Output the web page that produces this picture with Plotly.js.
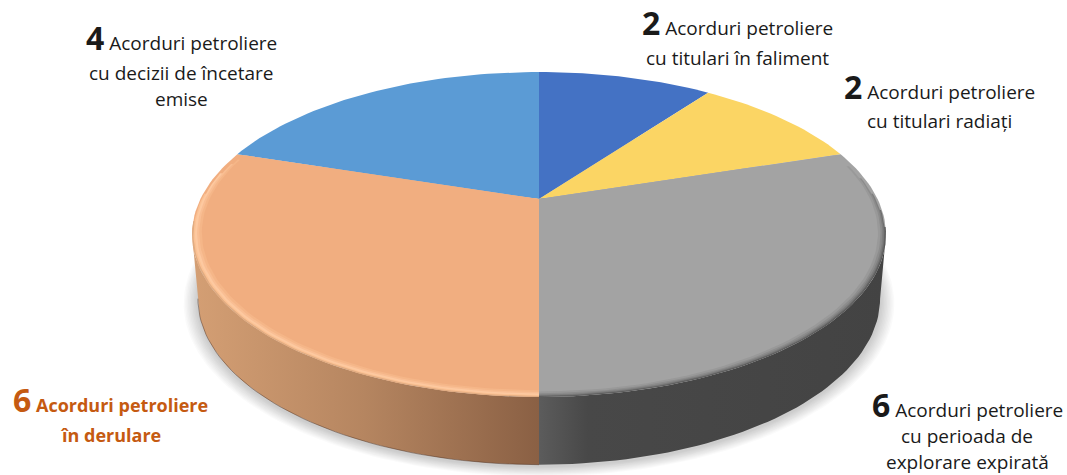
<!DOCTYPE html>
<html>
<head>
<meta charset="utf-8">
<script src="https://cdn.plot.ly/plotly-3.0.1.min.js"></script>
<style>html,body{margin:0;padding:0;background:#fff}</style>
</head>
<body>
<div id="chart" style="width:1067px;height:475px"></div>
<script>
// Petroleum agreements by status
const categories = ['cu titulari în faliment', 'cu titulari radiați', 'cu perioada de explorare expirată', 'în derulare', 'cu decizii de încetare emise'];
const values = [2, 2, 6, 6, 4];
const sliceColors = ['#4472C4', '#FBD564', '#A3A3A3', '#F1AE80', '#5B9BD5'];
const labelLines = [
  ['Acorduri petroliere', 'cu titulari în faliment'],
  ['Acorduri petroliere', 'cu titulari radiați'],
  ['Acorduri petroliere', 'cu perioada de', 'explorare expirată'],
  ['Acorduri petroliere', 'în derulare'],
  ['Acorduri petroliere', 'cu decizii de încetare', 'emise']
];

// Pixel placement of each label's lines: centre x, then one centre y per line
const labelPlacement = [
  {x: 737, y: [23, 58]},
  {x: 939, y: [87, 121]},
  {x: 967, y: [404, 436, 462]},
  {x: 110, y: [399, 435]},
  {x: 181, y: [38, 73, 99]}
];

const W = 1067, H = 475;
const PERSPECTIVE = 0.2184;
const total = values.reduce((a, b) => a + b, 0);
const toRad = d => d * Math.PI / 180;

// Angle at which the tilted disc reaches its widest point on either side
const SIDE = Math.acos(-PERSPECTIVE) * 180 / Math.PI;

// A point on the disc, tilted away from the viewer
function disc(r, deg) {
  const t = toRad(deg);
  const w = 1 + PERSPECTIVE * r * Math.cos(t);
  return [r * Math.sin(t) / w, r * Math.cos(t) / w];
}
// The same point on the lower rim of the disc
function lower(deg, grow = 1, drop = 0) {
  const p = disc(1, deg);
  return [0.983 * grow * p[0], -0.415 - drop + 1.022 * grow * (p[1] + 0.233) - 0.233];
}
function arc(from, to, fn) {
  const pts = [];
  const n = Math.max(2, Math.ceil(Math.abs(to - from) / 1.5));
  for (let i = 0; i <= n; i++) pts.push(fn(from + (to - from) * i / n));
  return pts;
}
function fillTrace(pts, style, name) {
  return Object.assign({
    type: 'scatter', mode: 'lines', fill: 'toself',
    x: pts.map(p => p[0]), y: pts.map(p => p[1]),
    line: {width: 0}, hoverinfo: name ? 'text' : 'skip', text: name, showlegend: false
  }, style);
}
function wedge(r, from, to) {
  return [[0, 0]].concat(arc(from, to, d => disc(r, d)), [[0, 0]]);
}

// Angular span of every slice, clockwise from twelve o'clock
const spans = [];
values.reduce((acc, v) => { spans.push([acc * 360 / total, (acc + v) * 360 / total]); return acc + v; }, 0);

const traces = [];

// Soft cast shadow beneath the disc
for (let i = 10; i >= 1; i--) {
  traces.push(fillTrace(arc(0, 360, d => lower(d, 1 + i * 0.0042, 0.012 + i * 0.002)), {fillcolor: 'rgba(0,0,0,0.02)'}));
}

// Side walls of the two front slices, running out to the disc's widest points
const wallStyle = {
  2: {fillgradient: {type: 'horizontal', colorscale: [[0, '#5C5C5C'], [0.14, '#484848'], [1, '#434343']]}},
  3: {fillgradient: {type: 'horizontal', colorscale: [[0, '#D49F74'], [0.5, '#B58560'], [1, '#8A6044']]}}
};
const wallSpans = {2: [SIDE, 180], 3: [180, 360 - SIDE]};
[2, 3].forEach(i => {
  const [a, b] = wallSpans[i];
  const pts = arc(a, b, d => disc(1, d)).concat(arc(b, a, d => lower(d)));
  pts.push(pts[0]);
  traces.push(fillTrace(pts, wallStyle[i]));
});
// Dark seam along the foot of the warm wall
{
  const [a, b] = wallSpans[3];
  const foot = arc(a, b, d => lower(d));
  traces.push({type: 'scatter', mode: 'lines', x: foot.map(p => p[0]), y: foot.map(p => p[1]),
    line: {width: 1, color: 'rgba(70,45,30,0.45)'}, hoverinfo: 'skip', showlegend: false});
}

// Top faces
spans.forEach(([a, b], i) => {
  traces.push(fillTrace(wedge(1, a, b), {fillcolor: sliceColors[i]}, categories[i] + ': ' + values[i]));
});

// Bevelled rim on the two front slices, outermost ring first; rings fade out toward the back
const bevels = {
  2: [[1, '#5A5A5A', 100, 180], [0.997, '#6C6C6C', 94, 180], [0.994, '#7E7E7E', 88, 180], [0.990, '#8C8C8C', 82, 180], [0.985, '#999999', 77, 180], [0.978, '#A3A3A3', 72, 180]],
  3: [[1, '#E0AC82', 180, 262], [0.996, '#FBC193', 180, 272], [0.992, '#FDC9A0', 180, 280], [0.986, '#F9BE93', 180, 284], [0.980, '#F5B688', 180, 286], [0.973, '#F1AE80', 180, 288]]
};
[2, 3].forEach(i => {
  bevels[i].forEach(([r, color, a, b]) => traces.push(fillTrace(wedge(r, a, b), {fillcolor: color})));
});

// One annotation per text line, the count in front of the first line
const fontFamily = '"Open Sans", Lato, sans-serif';
const annotations = [];
labelLines.forEach((lines, i) => {
  const accent = i === 3;
  const color = accent ? '#C55A11' : '#1A1A1A';
  lines.forEach((line, j) => {
    let text = accent ? '<b>' + line + '</b>' : line;
    if (j === 0) text = '<b><span style="font-size:32px">' + values[i] + '</span></b> ' + text;
    annotations.push({
      xref: 'paper', yref: 'paper',
      x: labelPlacement[i].x / W, y: 1 - labelPlacement[i].y[j] / H,
      xanchor: 'center', yanchor: 'middle', showarrow: false,
      text: text, font: {family: fontFamily, size: accent ? 18 : 19, color: color}
    });
  });
});

// Axes are scaled so the unit disc lands with its hub at (539, 199)
const sx = 338.6, sy = 154.7, cx = 539, cy = 199;
const layout = {
  width: W, height: H, autosize: false,
  margin: {l: 0, r: 0, t: 0, b: 0, pad: 0},
  paper_bgcolor: '#fff', plot_bgcolor: '#fff',
  showlegend: false,
  xaxis: {visible: false, range: [-cx / sx, (W - cx) / sx], fixedrange: true},
  yaxis: {visible: false, range: [(cy - H) / sy, cy / sy], fixedrange: true},
  annotations: annotations
};
Plotly.newPlot('chart', traces, layout, {displayModeBar: false, staticPlot: true});
</script>
</body>
</html>
